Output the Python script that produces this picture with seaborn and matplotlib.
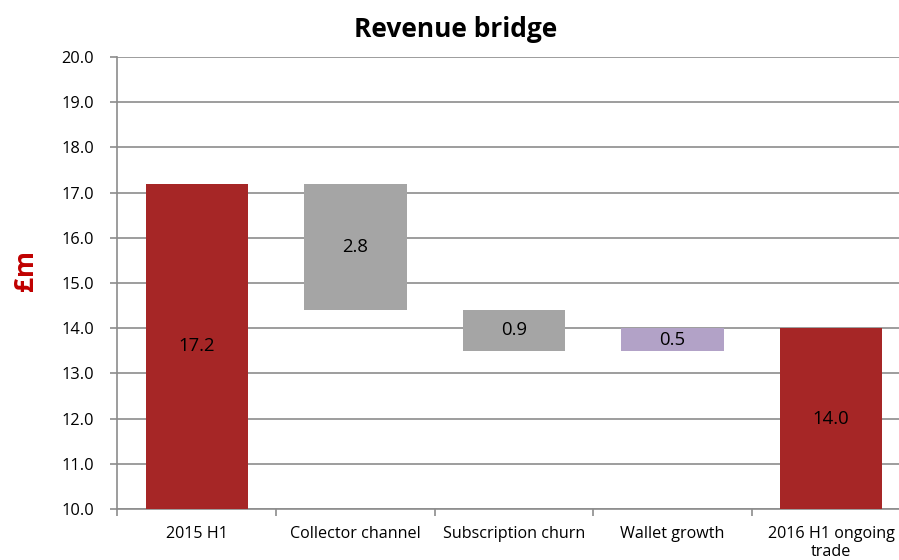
import matplotlib
matplotlib.use("Agg")
import matplotlib.pyplot as plt
from matplotlib.ticker import FixedLocator, FormatStrFormatter
import numpy as np
import pandas as pd
import seaborn as sns

# Revenue bridge data (£m)
categories = ["2015 H1", "Collector channel", "Subscription churn", "Wallet growth", "2016 H1 ongoing\ntrade"]
bases = [10.0, 14.4, 13.5, 13.5, 10.0]
heights = [7.2, 2.8, 0.9, 0.5, 4.0]
labels = ["17.2", "2.8", "0.9", "0.5", "14.0"]
colors = ["#A62626", "#A5A5A5", "#A5A5A5", "#B2A2C7", "#A62626"]

sns.set_theme(style="white")
plt.rcParams["font.family"] = ["Open Sans", "DejaVu Sans"]

df = pd.DataFrame({"category": categories, "height": heights, "base": bases})

fig = plt.figure(figsize=(8.99, 5.60), dpi=100)
ax = fig.add_axes([0.1307, 0.0911, 0.882, 0.807])

sns.barplot(data=df, x="category", y="height", bottom=df["base"].values,
            width=0.645, color="#A5A5A5", linewidth=0, ax=ax, zorder=3)
for patch, c in zip(ax.patches, colors):
    patch.set_facecolor(c)

# value labels in the middle of each bar
for i, (b, h, t) in enumerate(zip(bases, heights, labels)):
    ax.text(i, b + h / 2, t, ha="center", va="center", fontsize=13.3,
            color="black", zorder=4)

ax.set_ylim(10, 20)
ax.set_xlim(-0.5, len(categories) - 0.5)
ax.yaxis.set_major_locator(FixedLocator(np.arange(10, 20.01, 1.0)))
ax.yaxis.set_major_formatter(FormatStrFormatter("%.1f"))
ax.yaxis.grid(True, color="#8C8C8C", linewidth=1.2, zorder=0)
ax.set_axisbelow(True)

ax.set_xlabel("")
ax.set_ylabel("£m", fontsize=19, fontweight="bold", color="#C00000")
ax.yaxis.set_label_coords(-0.099, 0.527)

# category boundaries carry the tick marks
ax.xaxis.set_minor_locator(FixedLocator(np.arange(-0.5, len(categories), 1.0)))
ax.tick_params(axis="x", which="major", length=0, pad=12, labelsize=11.6, colors="black")
ax.tick_params(axis="x", which="minor", bottom=True, length=5, width=1.2, color="#8C8C8C")
ax.tick_params(axis="y", left=True, length=5, width=1.2, color="#8C8C8C", pad=12,
               labelsize=11.8, labelcolor="black")

for side in ["top", "right"]:
    ax.spines[side].set_visible(False)
for side in ["left", "bottom"]:
    ax.spines[side].set_color("#8C8C8C")
    ax.spines[side].set_linewidth(1.2)

fig.text(0.507, 0.948, "Revenue bridge", ha="center", va="center",
         fontsize=19, fontweight="bold", color="black")

fig.savefig("out.png", dpi=100)
